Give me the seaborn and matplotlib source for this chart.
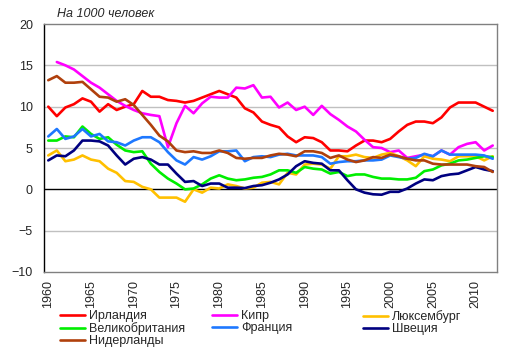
import numpy as np
import pandas as pd
import matplotlib
matplotlib.use("Agg")
import matplotlib.pyplot as plt
import seaborn as sns

years = list(range(1960, 2013))

ireland = [10.0, 8.85, 9.9, 10.3, 11.0, 10.6, 9.4, 10.3, 9.6, 10.0,
           10.3, 11.9, 11.2, 11.2, 10.8, 10.7, 10.5, 10.7, 11.1, 11.5,
           11.9, 11.5, 11.1, 9.8, 9.3, 8.2, 7.8, 7.5, 6.4, 5.7,
           6.3, 6.2, 5.7, 4.7, 4.7, 4.6, 5.3, 5.9, 5.9, 5.7,
           6.1, 7.0, 7.8, 8.2, 8.2, 8.0, 8.7, 9.9, 10.5, 10.5,
           10.5, 10.0, 9.5]
cyprus = [np.nan, 15.4, 15.0, 14.5, 13.7, 12.9, 12.3, 11.5, 10.7, 10.1,
          9.6, 9.2, 9.0, 8.85, 5.1, 8.0, 10.1, 9.2, 10.4, 11.2,
          11.1, 11.1, 12.3, 12.2, 12.6, 11.1, 11.2, 9.9, 10.5, 9.6,
          10.0, 9.0, 10.1, 9.1, 8.4, 7.6, 7.0, 6.0, 5.1, 5.0,
          4.5, 4.7, 3.8, 4.0, 4.2, 4.0, 4.7, 4.2, 5.1, 5.5,
          5.7, 4.7, 5.3]
luxembourg = [4.1, 4.7, 3.4, 3.6, 4.1, 3.6, 3.4, 2.5, 2.0, 1.0,
              0.9, 0.3, 0.0, -1.0, -1.0, -1.0, -1.5, 0.0, -0.4, 0.2,
              0.1, 0.6, 0.4, 0.1, 0.2, 0.8, 0.9, 0.6, 2.0, 1.8,
              3.0, 3.1, 3.0, 2.5, 4.0, 4.0, 4.2, 3.9, 3.8, 4.2,
              4.4, 4.0, 3.5, 2.8, 4.0, 3.7, 3.6, 3.4, 4.0, 4.0,
              4.0, 3.5, 4.0]
uk = [5.9, 5.9, 6.4, 6.3, 7.6, 6.7, 6.1, 6.3, 5.4, 4.7,
      4.5, 4.6, 3.1, 2.1, 1.3, 0.7, 0.0, 0.1, 0.6, 1.3,
      1.7, 1.3, 1.1, 1.2, 1.4, 1.5, 1.8, 2.3, 2.3, 2.0,
      2.7, 2.5, 2.4, 1.9, 2.1, 1.6, 1.8, 1.8, 1.5, 1.3,
      1.3, 1.2, 1.2, 1.4, 2.2, 2.4, 2.9, 3.1, 3.5, 3.6,
      3.8, 4.0, 3.9]
france = [6.4, 7.3, 6.1, 6.4, 7.3, 6.4, 6.7, 5.8, 5.7, 5.3,
          5.9, 6.3, 6.3, 5.7, 4.5, 3.5, 3.0, 3.9, 3.6, 4.0,
          4.6, 4.6, 4.7, 3.4, 3.9, 4.0, 3.9, 4.2, 4.3, 4.1,
          4.1, 4.1, 3.9, 3.1, 3.3, 3.4, 3.4, 3.5, 3.5, 3.6,
          4.1, 3.9, 3.7, 3.8, 4.3, 4.0, 4.7, 4.2, 4.2, 4.2,
          4.2, 4.1, 3.7]
sweden = [3.5, 4.1, 4.0, 4.7, 5.9, 5.9, 5.8, 5.3, 4.1, 3.0,
          3.7, 3.9, 3.6, 3.0, 3.0, 1.9, 0.9, 1.0, 0.4, 0.7,
          0.7, 0.2, 0.2, 0.15, 0.4, 0.5, 0.8, 1.2, 1.8, 2.8,
          3.4, 3.2, 3.1, 2.3, 2.3, 1.1, 0.0, -0.4, -0.6, -0.65,
          -0.3, -0.3, 0.1, 0.7, 1.2, 1.1, 1.6, 1.8, 1.9, 2.3,
          2.7, 2.4, 2.2]
netherlands = [13.2, 13.7, 12.9, 12.9, 13.0, 12.1, 11.2, 11.1, 10.6, 10.9,
               10.2, 9.0, 7.8, 6.5, 5.8, 4.7, 4.5, 4.6, 4.4, 4.4,
               4.7, 4.4, 3.8, 3.7, 3.8, 3.8, 4.1, 4.3, 4.2, 4.0,
               4.6, 4.6, 4.4, 3.8, 4.1, 3.6, 3.3, 3.5, 3.9, 3.8,
               4.2, 4.0, 3.7, 3.5, 3.5, 3.1, 3.0, 3.0, 3.0, 3.0,
               2.8, 2.7, 2.1]

countries = ["Ирландия", "Кипр", "Люксембург", "Великобритания",
             "Франция", "Швеция", "Нидерланды"]
series = [ireland, cyprus, luxembourg, uk, france, sweden, netherlands]
colors = ["#FF0000", "#FF00FF", "#FFC000", "#00EE00",
          "#1E78FF", "#000080", "#B0400C"]

df = pd.concat([pd.DataFrame({"year": years, "value": v, "country": c})
                for c, v in zip(countries, series)], ignore_index=True)

sns.set_style("white")
plt.rcParams["font.family"] = ["Liberation Sans", "DejaVu Sans"]
plt.rcParams["font.size"] = 9

fig = plt.figure(figsize=(5.12, 3.54), dpi=100)
ax = fig.add_axes([44 / 512, 1 - 272 / 354, (497 - 44) / 512, (272 - 24) / 354])

for y in [-5, 5, 10, 15]:
    ax.axhline(y, color="#C0C0C0", lw=1, zorder=0)
ax.axhline(0, color="black", lw=1, zorder=1)

sns.lineplot(data=df, x="year", y="value", hue="country", hue_order=countries,
             palette=colors, lw=1.9, ax=ax, zorder=3)

ax.set_xlim(1959.5, 2012.5)
ax.set_ylim(-10, 20)
ax.set_yticks([-10, -5, 0, 5, 10, 15, 20])
ax.set_xticks(list(range(1960, 2013, 5)))
ax.set_xticklabels([str(y) for y in range(1960, 2013, 5)], rotation=90)
ax.tick_params(axis="y", length=0, pad=8)
ax.tick_params(axis="x", length=0, pad=6)
ax.set_xlabel("")
ax.set_ylabel("")
for side in ["top", "right", "bottom"]:
    ax.spines[side].set_color("#808080")
    ax.spines[side].set_linewidth(1)
ax.spines["left"].set_color("black")
ax.spines["left"].set_linewidth(1)

handles, labels = ax.get_legend_handles_labels()
ax.get_legend().remove()
lookup = dict(zip(labels, handles))
cols = [["Ирландия", "Великобритания", "Нидерланды"],
        ["Кипр", "Франция"],
        ["Люксембург", "Швеция"]]
col_x = [60, 212, 363]
for names, x in zip(cols, col_x):
    fig.legend([lookup[n] for n in names], names, loc="upper left",
               bbox_to_anchor=(x / 512, 1 - 310 / 354), frameon=False,
               borderpad=0, borderaxespad=0, labelspacing=0.0,
               handlelength=2.0, handletextpad=0.3, fontsize=9)

fig.text(57 / 512, 1 - 14 / 354, "На 1000 человек", style="italic",
         fontsize=9, va="center", ha="left")

fig.savefig("out.png", dpi=100)
